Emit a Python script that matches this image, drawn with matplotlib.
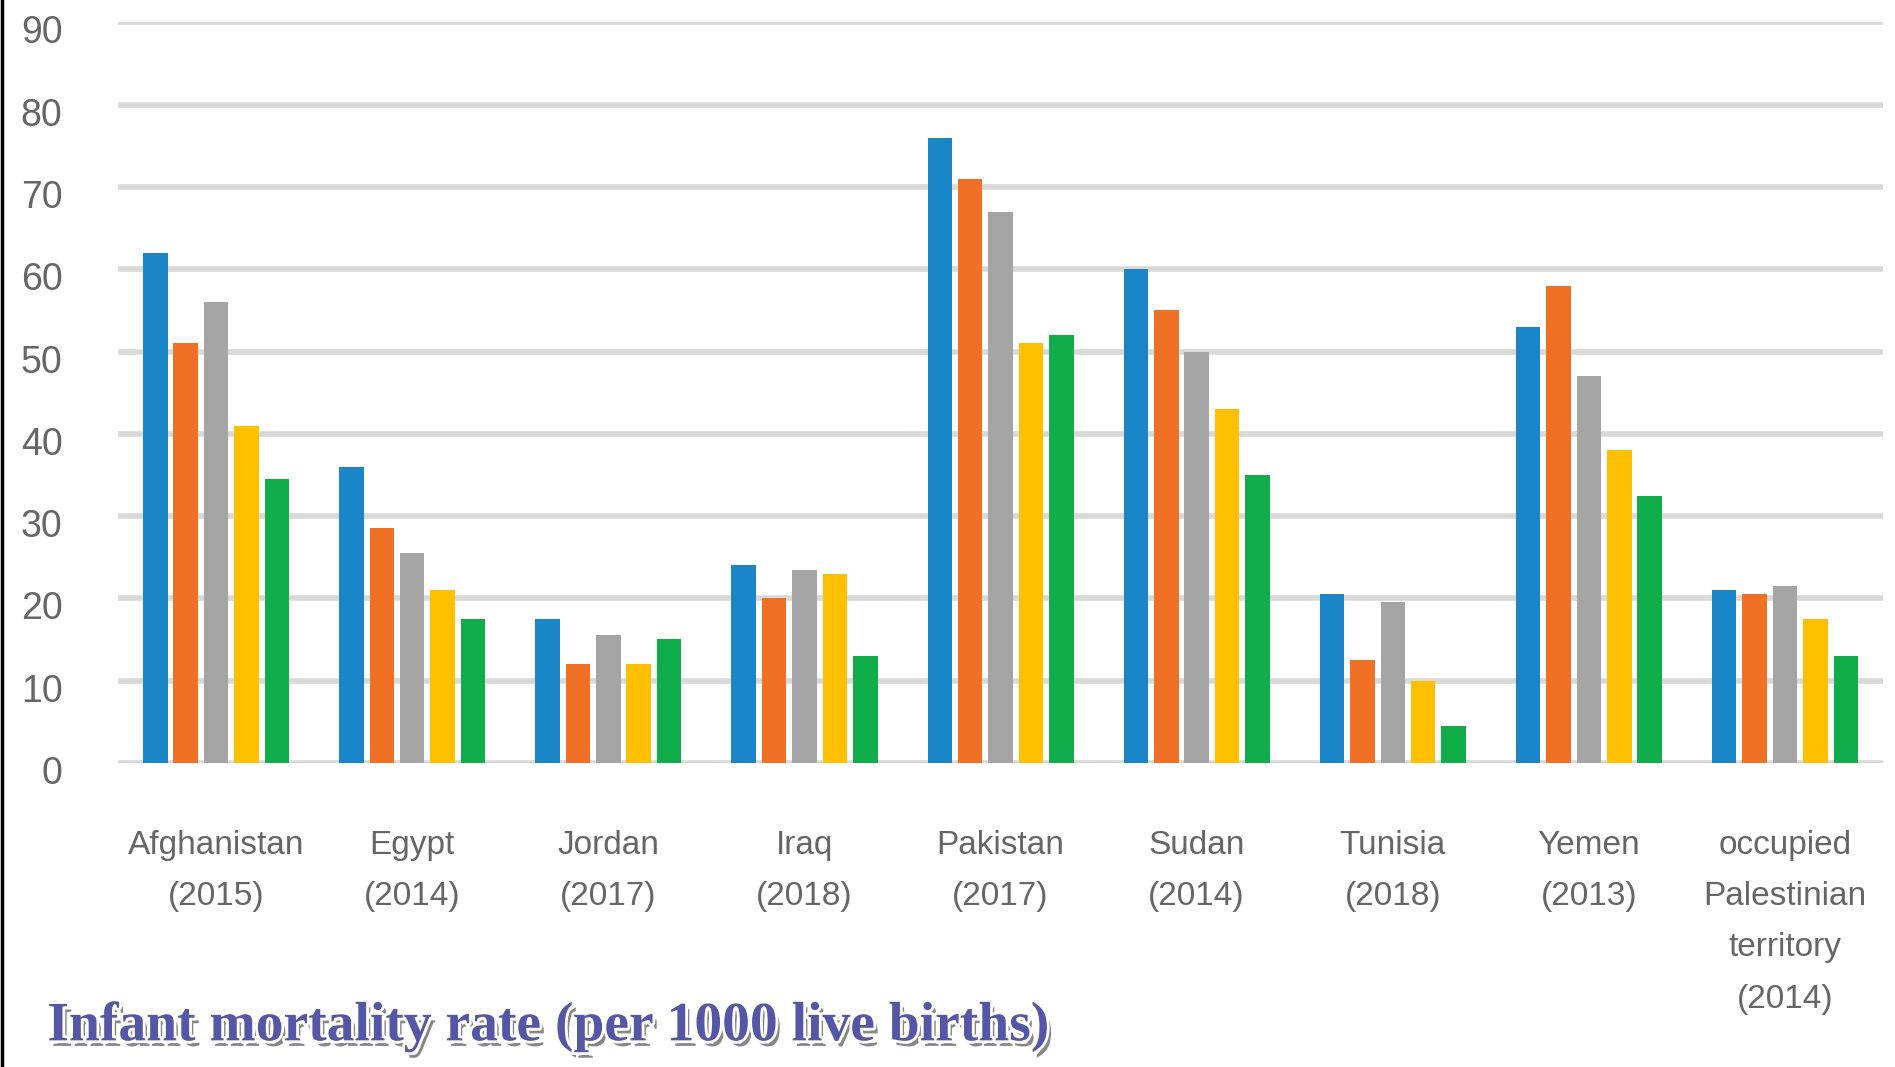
import matplotlib
matplotlib.use("Agg")
import matplotlib.pyplot as plt
import matplotlib.patheffects as pe
import matplotlib.transforms as mtransforms
import numpy as np

countries = ["Afghanistan\n(2015)", "Egypt\n(2014)", "Jordan\n(2017)", "Iraq\n(2018)",
             "Pakistan\n(2017)", "Sudan\n(2014)", "Tunisia\n(2018)", "Yemen\n(2013)",
             "occupied\nPalestinian\nterritory\n(2014)"]

series_1 = [62, 36, 17.5, 24, 76, 60, 20.5, 53, 21]
series_2 = [51, 28.5, 12, 20, 71, 55, 12.5, 58, 20.5]
series_3 = [56, 25.5, 15.5, 23.5, 67, 50, 19.5, 47, 21.5]
series_4 = [41, 21, 12, 23, 51, 43, 10, 38, 17.5]
series_5 = [34.5, 17.5, 15, 13, 52, 35, 4.5, 32.5, 13]

colors = ["#1A86C8", "#F07025", "#A5A5A5", "#FFC000", "#11AD4B"]

fig = plt.figure(figsize=(18.95, 10.67), dpi=100)
ax = fig.add_axes([0.0623, 0.285, 0.9314, 0.694])

x = np.arange(len(countries))
width = 0.125
step = 0.155
for i, vals in enumerate([series_1, series_2, series_3, series_4, series_5]):
    ax.bar(x + (i - 2) * step, vals, width=width, color=colors[i], zorder=3)

ax.set_xlim(-0.5, len(countries) - 0.5)
ax.set_ylim(0, 90)
ax.set_yticks(range(0, 91, 10))
ax.yaxis.grid(True, color="#D9D9D9", linewidth=4, zorder=0)
ax.set_axisbelow(True)
for s in ax.spines.values():
    s.set_visible(False)
ax.tick_params(axis="both", length=0, labelcolor="#666666")
ax.tick_params(axis="y", pad=40, labelsize=27)
ax.set_xticks(x)
ax.set_xticklabels(countries, fontsize=24, linespacing=1.85, va="top")
ax.tick_params(axis="x", pad=48)
for lbl in ax.get_xticklabels() + ax.get_yticklabels():
    lbl.set_family("Liberation Sans")

# y labels sit a little below their gridlines
shift = mtransforms.ScaledTranslation(0, -0.07, fig.dpi_scale_trans)
for lbl in ax.get_yticklabels():
    lbl.set_transform(lbl.get_transform() + shift)

# left border
fig.add_artist(plt.Line2D([0.0008, 0.0008], [0, 1], color="black", linewidth=2.5))

fig.text(0.025, 0.038, "Infant mortality rate (per 1000 live births)",
         fontsize=40, fontweight="bold", family="Liberation Serif",
         color="#5656A6", va="center", ha="left",
         path_effects=[pe.SimplePatchShadow(offset=(3, -4), shadow_rgbFace="#555555", alpha=0.7),
                       pe.Stroke(linewidth=4, foreground="white"), pe.Normal()])

fig.savefig("out.png", dpi=100)
